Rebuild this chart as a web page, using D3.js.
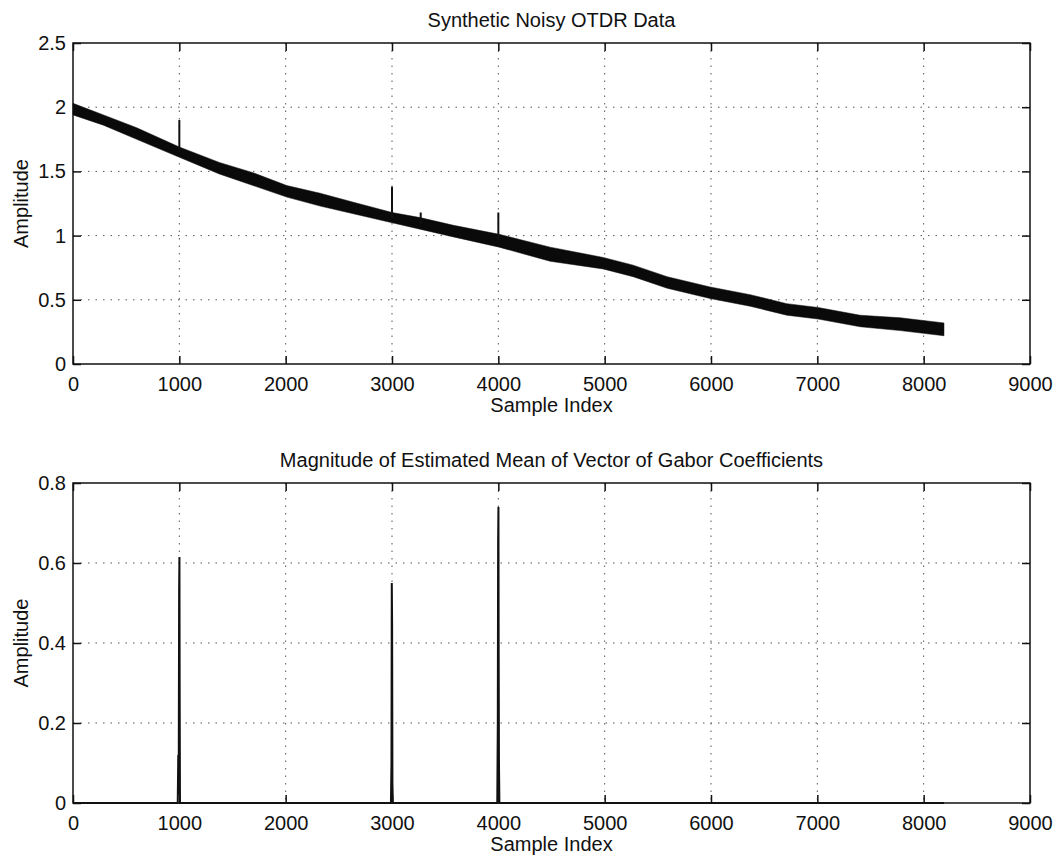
<!DOCTYPE html>
<html>
<head>
<meta charset="utf-8">
<script src="https://cdn.jsdelivr.net/npm/d3@7"></script>
<style>
  body { margin: 0; background: #fff; }
  svg text { font-family: "Liberation Sans", Arial, sans-serif; fill: #111; }
</style>
</head>
<body>
<div id="chart"></div>
<script>
// top panel: noisy OTDR trace, read as an upper/lower envelope of the black band
var otdrIdx = [0, 286, 599, 1000, 1376, 1693, 2010, 2324, 2637, 3001, 3264, 3578, 4008, 4487, 4986, 5268, 5588, 5992, 6368, 6713, 7008, 7403, 7780, 8191];
var otdrUpper = [2.03, 1.94, 1.84, 1.69, 1.57, 1.49, 1.39, 1.33, 1.26, 1.18, 1.14, 1.08, 1.01, 0.91, 0.83, 0.77, 0.68, 0.60, 0.54, 0.47, 0.44, 0.38, 0.36, 0.32];
var otdrLower = [1.94, 1.86, 1.75, 1.61, 1.48, 1.39, 1.30, 1.23, 1.17, 1.10, 1.05, 0.99, 0.91, 0.80, 0.74, 0.68, 0.59, 0.51, 0.45, 0.38, 0.35, 0.29, 0.26, 0.22];

// reflection spikes on the trace
var spikeIdx = [1000, 3000, 3270, 4000];
var spikeBase = [1.65, 1.14, 1.09, 0.96];
var spikeTop = [1.90, 1.38, 1.18, 1.18];

// bottom panel: magnitude of Gabor coefficient mean
var gaborIdx = [0, 985, 990, 994, 998, 1001, 1003, 1006, 2990, 2995, 2998, 3001, 3004, 3008, 3990, 3995, 3998, 4001, 4003, 4006, 4010, 8192];
var gaborMag = [0, 0, 0.12, 0.02, 0.53, 0.615, 0.3, 0, 0, 0.1, 0.55, 0.45, 0.05, 0, 0, 0.2, 0.65, 0.74, 0.4, 0.1, 0, 0];

var xTicks = [0, 1000, 2000, 3000, 4000, 5000, 6000, 7000, 8000, 9000];
var yTicksTop = [0, 0.5, 1, 1.5, 2, 2.5];
var yTicksBottom = [0, 0.2, 0.4, 0.6, 0.8];

var width = 1060, height = 859;
var left = 73, right = 1030;

var svg = d3.select('#chart').append('svg')
    .attr('width', width)
    .attr('height', height);

var x = d3.scaleLinear().domain([0, 9000]).range([left, right]);

function panel(top, bottom, yDomain, yTicks, title) {
    var y = d3.scaleLinear().domain(yDomain).range([bottom, top]);
    var g = svg.append('g');

    // dotted grid
    g.append('g').selectAll('line').data(xTicks.slice(1, -1)).enter().append('line')
        .attr('x1', d => x(d)).attr('x2', d => x(d))
        .attr('y1', top).attr('y2', bottom)
        .attr('stroke', '#555').attr('stroke-width', 1)
        .attr('stroke-dasharray', '1.5,6');
    g.append('g').selectAll('line').data(yTicks.slice(1, -1)).enter().append('line')
        .attr('x1', left).attr('x2', right)
        .attr('y1', d => y(d)).attr('y2', d => y(d))
        .attr('stroke', '#555').attr('stroke-width', 1)
        .attr('stroke-dasharray', '1.5,6');

    // axes with inward ticks
    g.append('g')
        .attr('transform', `translate(0,${bottom})`)
        .call(d3.axisBottom(x).tickValues(xTicks).tickFormat(d3.format('d')).tickSizeInner(-8).tickSizeOuter(0).tickPadding(13));
    g.append('g')
        .attr('transform', `translate(${left},0)`)
        .call(d3.axisLeft(y).tickValues(yTicks).tickFormat(d3.format('~g')).tickSizeInner(-8).tickSizeOuter(0).tickPadding(7));
    g.append('g')
        .attr('transform', `translate(0,${top})`)
        .call(d3.axisTop(x).tickValues(xTicks).tickFormat('').tickSizeInner(-8).tickSizeOuter(0));
    g.append('g')
        .attr('transform', `translate(${right},0)`)
        .call(d3.axisRight(y).tickValues(yTicks).tickFormat('').tickSizeInner(-8).tickSizeOuter(0));

    g.selectAll('.domain').remove();
    g.selectAll('.tick line').attr('stroke', '#111').attr('stroke-width', 1.5);
    g.selectAll('.tick text').attr('font-size', 20).style('font-family', '"Liberation Sans", Arial, sans-serif').attr('fill', '#111');

    // box
    g.append('rect')
        .attr('x', left).attr('y', top)
        .attr('width', right - left).attr('height', bottom - top)
        .attr('fill', 'none').attr('stroke', '#111').attr('stroke-width', 1.5);

    g.append('text')
        .attr('x', (left + right) / 2).attr('y', top - 16)
        .attr('text-anchor', 'middle').attr('font-size', 20)
        .text(title);
    g.append('text')
        .attr('x', (left + right) / 2).attr('y', bottom + 48)
        .attr('text-anchor', 'middle').attr('font-size', 20)
        .text('Sample Index');
    g.append('text')
        .attr('transform', `translate(28,${(top + bottom) / 2}) rotate(-90)`)
        .attr('text-anchor', 'middle').attr('font-size', 20)
        .text('Amplitude');
    return y;
}

var yTop = panel(43, 364, [0, 2.5], yTicksTop, 'Synthetic Noisy OTDR Data');
var yBot = panel(483, 803, [0, 0.8], yTicksBottom, 'Magnitude of Estimated Mean of Vector of Gabor Coefficients');

// noisy trace band
var band = d3.area()
    .x(d => x(d.i))
    .y0(d => yTop(d.lo))
    .y1(d => yTop(d.hi));
svg.append('path')
    .datum(otdrIdx.map((d, k) => ({ i: d, lo: otdrLower[k], hi: otdrUpper[k] })))
    .attr('d', band)
    .attr('fill', '#0a0a0a')
    .attr('stroke', '#0a0a0a')
    .attr('stroke-width', 0.5);

svg.append('g').selectAll('line').data(spikeIdx).enter().append('line')
    .attr('x1', d => x(d)).attr('x2', d => x(d))
    .attr('y1', (d, k) => yTop(spikeBase[k]))
    .attr('y2', (d, k) => yTop(spikeTop[k]))
    .attr('stroke', '#111').attr('stroke-width', 2);

// gabor magnitude line
svg.append('path')
    .datum(gaborIdx.map((d, k) => ({ i: d, v: gaborMag[k] })))
    .attr('d', d3.line().x(d => x(d.i)).y(d => yBot(d.v)))
    .attr('fill', 'none')
    .attr('stroke', '#111')
    .attr('stroke-width', 2);
</script>
</body>
</html>
